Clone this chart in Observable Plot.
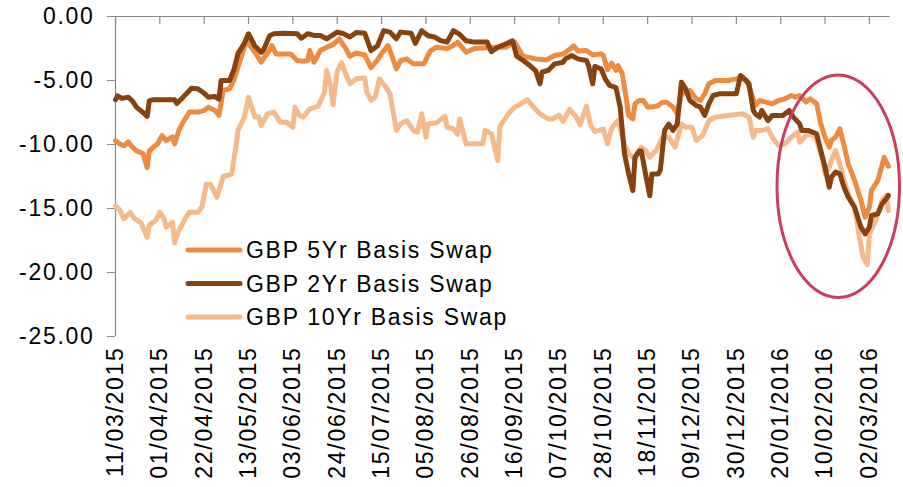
<!DOCTYPE html>
<html><head><meta charset="utf-8">
<script src="https://cdn.jsdelivr.net/npm/d3@7"></script>
<script src="https://cdn.jsdelivr.net/npm/@observablehq/plot@0.6"></script>
<style>
html,body{margin:0;padding:0;background:#fff;}
#chart{width:903px;height:487px;}
</style></head><body><div id="chart"></div>
<script>
// ---- data ----
const startLabel = "11/03/2015";           // first date; series x values are days since this date
const endLabel = "12/03/2016";             // end of the date axis
const xTickLabels = ["11/03/2015","01/04/2015","22/04/2015","13/05/2015","03/06/2015","24/06/2015",
  "15/07/2015","05/08/2015","26/08/2015","16/09/2015","07/10/2015","28/10/2015","18/11/2015",
  "09/12/2015","30/12/2015","20/01/2016","10/02/2016","02/03/2016"];
const yTicks = [0, -5, -10, -15, -20, -25];
const seriesNames = ["GBP 5Yr Basis Swap", "GBP 2Yr Basis Swap", "GBP 10Yr Basis Swap"];
const seriesColors = ["#EF8B3E", "#87420F", "#F5B98C"];

// [days since 11/03/2015, value]
const gbp5 = [[0,-9.7],[2,-9.95],[4,-10.1],[6,-9.8],[8,-10.2],[10,-10.5],[13,-10.7],[14,-11.25],[15,-11.8],[16,-10.5],[18,-10.2],[20,-9.95],[22,-9.3],[24,-9.7],[27,-9.4],[28,-9.95],[30,-8.9],[32,-8.26],[35,-7.47],[39,-7.47],[42,-7.34],[44,-7.08],[47,-7.34],[49,-7.73],[51,-5.78],[54,-5.65],[56,-5.0],[58,-3.96],[60,-2.92],[62,-1.88],[66,-2.79],[69,-3.57],[71,-3.05],[72,-2.9],[74,-2.27],[76,-2.92],[83,-2.92],[86,-3.44],[89,-3.5],[91,-3.44],[92,-2.66],[94,-3.57],[97,-2.66],[100,-2.4],[103,-2.2],[106,-1.74],[109,-2.5],[111,-3.1],[114,-2.85],[118,-3.0],[121,-4.0],[124,-3.4],[126,-2.9],[129,-2.27],[130,-2.66],[133,-4.09],[135,-3.44],[138,-3.31],[141,-3.7],[146,-3.7],[149,-2.7],[152,-2.4],[157,-2.5],[160,-2.27],[162,-2.0],[166,-2.79],[170,-2.5],[176,-2.45],[181,-2.4],[185,-2.4],[189,-2.0],[193,-3.1],[196,-3.2],[199,-3.31],[204,-3.4],[208,-3.05],[212,-2.92],[214,-2.7],[217,-2.3],[219,-2.7],[223,-2.66],[226,-3.0],[230,-2.92],[231,-3.05],[233,-4.15],[235,-3.65],[237,-4.2],[238,-3.83],[240,-4.48],[242,-6.56],[243,-7.73],[245,-8.0],[246,-6.82],[248,-6.56],[250,-6.56],[252,-7.08],[254,-7.08],[257,-6.95],[259,-6.69],[261,-6.69],[264,-7.08],[266,-7.6],[268,-6.04],[272,-5.78],[275,-6.43],[277,-6.56],[279,-6.04],[281,-5.26],[284,-5.0],[290,-5.0],[294,-4.87],[296,-4.74],[299,-5.0],[302,-6.43],[303,-6.95],[305,-6.56],[308,-6.69],[311,-6.82],[314,-6.56],[317,-6.43],[320,-6.17],[322,-6.3],[324,-6.17],[327,-6.69],[329,-6.43],[332,-6.82],[334,-8.39],[336,-9.43],[338,-10.21],[339,-9.69],[341,-9.43],[343,-8.77],[345,-10.08],[347,-11.51],[350,-12.81],[353,-14.37],[355,-15.68],[357,-14.9],[358,-13.59],[360,-13.08],[361,-12.81],[364,-11.0],[366,-11.7]];

const gbp2 = [[0,-6.5],[1,-6.2],[3,-6.4],[6,-6.3],[8,-6.6],[10,-7.1],[13,-7.5],[15,-7.8],[16,-6.6],[18,-6.5],[28,-6.5],[29,-6.8],[32,-6.3],[36,-5.6],[39,-5.65],[42,-6.0],[44,-6.3],[47,-6.25],[49,-6.45],[50,-5.0],[54,-5.0],[56,-4.2],[58,-2.9],[61,-2.1],[63,-1.35],[66,-2.3],[69,-2.8],[70,-2.65],[73,-1.5],[75,-1.35],[80,-1.3],[86,-1.35],[88,-1.7],[91,-1.35],[94,-1.48],[97,-1.48],[100,-1.74],[105,-1.22],[108,-1.35],[111,-1.6],[114,-1.25],[118,-1.3],[121,-2.66],[124,-2.3],[127,-1.1],[130,-1.22],[133,-1.74],[135,-1.22],[140,-1.3],[142,-2.1],[145,-1.1],[148,-1.5],[151,-1.6],[154,-1.88],[157,-2.0],[160,-1.1],[163,-1.4],[166,-1.9],[170,-2.0],[176,-2.0],[178,-2.75],[181,-2.4],[184,-2.2],[188,-1.9],[190,-3.1],[193,-3.44],[196,-3.8],[199,-4.25],[201,-5.26],[202,-4.35],[205,-4.2],[208,-3.7],[212,-3.57],[213,-3.31],[216,-3.05],[219,-3.31],[223,-3.44],[224,-3.83],[226,-5.26],[227,-3.9],[230,-4.1],[232,-4.9],[234,-5.39],[237,-5.55],[239,-7.1],[241,-10.7],[243,-12.3],[245,-13.6],[246,-11.0],[248,-10.5],[249,-10.5],[251,-12.3],[253,-14.0],[254,-12.3],[257,-12.3],[258,-12.0],[260,-8.9],[262,-8.4],[264,-8.9],[266,-8.4],[268,-5.13],[270,-5.65],[272,-6.56],[275,-6.95],[277,-7.08],[279,-7.73],[281,-6.82],[283,-6.17],[286,-6.04],[294,-6.04],[296,-4.61],[297,-4.74],[300,-5.26],[302,-7.34],[303,-7.6],[305,-7.86],[306,-7.34],[309,-8.13],[311,-7.73],[316,-7.73],[319,-7.34],[321,-7.86],[324,-8.39],[325,-8.9],[328,-8.9],[332,-9.16],[334,-10.47],[336,-11.77],[338,-13.34],[339,-12.55],[341,-12.16],[343,-12.29],[345,-13.34],[347,-14.12],[350,-14.9],[353,-16.46],[355,-16.98],[357,-16.46],[358,-15.55],[361,-15.42],[363,-14.64],[365,-14.25],[366,-13.98]];

const gbp10 = [[0,-14.8],[2,-15.1],[4,-15.8],[7,-15.3],[9,-15.8],[12,-16.1],[13,-16.46],[15,-17.24],[16,-16.3],[19,-15.94],[21,-15.29],[23,-15.81],[24,-16.46],[27,-16.07],[28,-17.7],[30,-16.72],[33,-15.8],[35,-15.29],[39,-15.3],[41,-14.85],[43,-13.1],[45,-13.1],[48,-14.12],[51,-12.5],[53,-12.42],[55,-12.29],[57,-10.21],[58,-8.9],[61,-7.86],[63,-6.3],[66,-7.86],[68,-7.86],[69,-8.52],[72,-7.6],[75,-7.47],[78,-8.26],[81,-8.26],[84,-8.65],[85,-7.08],[87,-7.73],[89,-7.86],[92,-7.21],[96,-7.0],[99,-5.91],[100,-4.22],[102,-5.52],[103,-6.9],[105,-4.3],[107,-3.6],[109,-4.5],[111,-5.26],[113,-5.0],[114,-4.87],[118,-4.8],[119,-5.91],[121,-6.56],[123,-6.3],[125,-4.87],[128,-5.52],[130,-6.04],[133,-8.9],[135,-8.39],[138,-8.13],[141,-8.9],[143,-9.04],[145,-7.6],[147,-9.43],[148,-8.39],[152,-8.3],[156,-7.8],[157,-8.65],[160,-8.77],[162,-9.2],[163,-8.0],[166,-9.95],[174,-9.95],[175,-8.9],[178,-9.16],[181,-11.25],[182,-8.6],[186,-7.6],[189,-7.08],[192,-6.82],[195,-6.5],[198,-7.1],[201,-7.6],[205,-8.0],[207,-8.0],[210,-7.7],[212,-8.2],[215,-7.25],[218,-7.8],[220,-8.45],[223,-7.0],[225,-8.5],[227,-9.0],[231,-8.8],[233,-9.95],[235,-8.7],[238,-8.13],[241,-9.95],[243,-10.73],[246,-11.12],[249,-10.21],[251,-10.47],[253,-10.99],[256,-10.47],[259,-9.43],[262,-9.43],[265,-10.21],[268,-8.39],[270,-8.65],[273,-8.65],[275,-9.69],[278,-9.3],[281,-8.13],[284,-7.86],[290,-7.73],[297,-7.6],[300,-7.86],[302,-9.43],[303,-8.9],[306,-8.9],[309,-8.77],[311,-9.43],[314,-10.08],[317,-9.95],[320,-9.43],[323,-9.04],[324,-9.82],[327,-9.3],[330,-9.16],[332,-9.69],[335,-11.25],[336,-12.29],[338,-11.77],[339,-11.25],[341,-10.47],[343,-11.51],[345,-12.81],[347,-13.85],[350,-14.9],[352,-16.98],[354,-18.8],[356,-19.4],[357,-16.98],[360,-15.94],[363,-14.37],[365,-13.98],[366,-15.16]];

// annotation ellipse: centre [days, value] and half-spans [days, value units]
const ellipseCenter = [342.5, -13.3];
const ellipseHalfSpan = [29, 8.7];

// ---- build ----
const parse = d3.utcParse("%d/%m/%Y");
const start = parse(startLabel);
const end = parse(endLabel);
const toDate = n => new Date(start.getTime() + n * 864e5);
const xTicks = xTickLabels.map(parse);
const axisGray = "#898989";
const table = (arr, name) => arr.map(([d, v]) => ({date: toDate(d), value: v, series: name}));
const rows5 = table(gbp5, seriesNames[0]);
const rows2 = table(gbp2, seriesNames[1]);
const rows10 = table(gbp10, seriesNames[2]);

const lineW = 5;
const lineOpts = (color) => ({x: "date", y: "value", stroke: color, strokeWidth: lineW,
  strokeLinejoin: "round", strokeLinecap: "round"});

const plot = Plot.plot({
  width: 903, height: 487,
  marginLeft: 115, marginRight: 13, marginTop: 16, marginBottom: 151,
  style: {fontFamily: "'Liberation Sans', Arial, sans-serif", fontSize: "23px",
    letterSpacing: "1.7px", color: "#000", background: "#fff"},
  x: {type: "utc", domain: [start, end]},
  y: {domain: [-25, 0]},
  marks: [
    Plot.ruleY([0], {stroke: axisGray, strokeWidth: 1.2}),
    Plot.ruleX([start], {stroke: axisGray, strokeWidth: 1.2}),
    Plot.ruleX(xTicks, {x: d => d, y1: 0, y2: 0, insetBottom: -8, stroke: axisGray, strokeWidth: 1.2}),
    Plot.axisY({ticks: yTicks, tickFormat: d => d.toFixed(2), tickSize: 8, tickPadding: 13,
      stroke: axisGray, label: null}),
    Plot.axisX({ticks: xTicks, tickFormat: d => d3.utcFormat("%d/%m/%Y")(d), tickSize: 0,
      tickRotate: -90, tickPadding: 10, label: null}),
    Plot.line(rows10, lineOpts(seriesColors[2])),
    Plot.line(rows5, lineOpts(seriesColors[0])),
    Plot.line(rows2, lineOpts(seriesColors[1]))
  ]
});

const sx = plot.scale("x"), sy = plot.scale("y");
const svg = d3.select(plot);

// annotation ellipse
const cx = sx.apply(toDate(ellipseCenter[0]));
const cy = sy.apply(ellipseCenter[1]);
svg.append("ellipse")
  .attr("cx", cx).attr("cy", cy)
  .attr("rx", sx.apply(toDate(ellipseCenter[0] + ellipseHalfSpan[0])) - cx)
  .attr("ry", sy.apply(ellipseCenter[1] - ellipseHalfSpan[1]) - cy)
  .attr("fill", "none").attr("stroke", "#C83E5C").attr("stroke-width", 3);

// legend inside the plot area
const leg = svg.append("g").attr("text-anchor", "start");
seriesNames.forEach((name, i) => {
  const y = 250 + i * 33.5;
  leg.append("line").attr("x1", 188).attr("x2", 240).attr("y1", y).attr("y2", y)
    .attr("stroke", seriesColors[i]).attr("stroke-width", lineW).attr("stroke-linecap", "round");
  leg.append("text").attr("x", 246).attr("y", y + 8.2).attr("fill", "#000")
    .attr("text-anchor", "start").text(name);
});

document.getElementById("chart").appendChild(plot);
</script></body></html>
